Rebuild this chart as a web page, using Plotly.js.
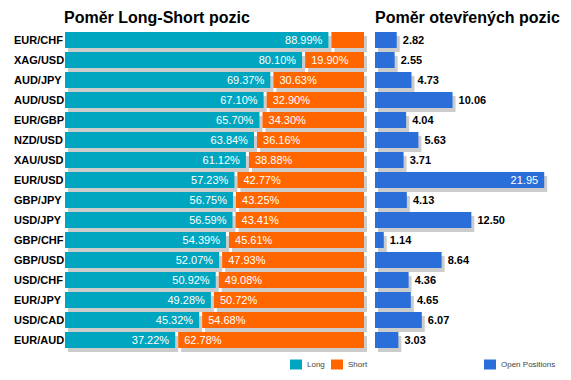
<!DOCTYPE html>
<html>
<head>
<meta charset="utf-8">
<script src="https://cdn.plot.ly/plotly-3.0.1.min.js"></script>
<style>html,body{margin:0;padding:0;background:#fff;}#chart{width:571px;height:380px;}</style>
</head>
<body>
<div id="chart"></div>
<script>
const pairs = ['EUR/CHF','XAG/USD','AUD/JPY','AUD/USD','EUR/GBP','NZD/USD','XAU/USD','EUR/USD','GBP/JPY','USD/JPY','GBP/CHF','GBP/USD','USD/CHF','EUR/JPY','USD/CAD','EUR/AUD'];
const longPct = [88.99,80.10,69.37,67.10,65.70,63.84,61.12,57.23,56.75,56.59,54.39,52.07,50.92,49.28,45.32,37.22];
const shortPct = [11.01,19.90,30.63,32.90,34.30,36.16,38.88,42.77,43.25,43.41,45.61,47.93,49.08,50.72,54.68,62.78];
const openPos = [2.82,2.55,4.73,10.06,4.04,5.63,3.71,21.95,4.13,12.50,1.14,8.64,4.36,4.65,6.07,3.03];

const W = 571, H = 380;
const fx = p => p / W;
const fy = p => 1 - p / H;
const FONT = 'Arial, "Liberation Sans", sans-serif';
const TEAL = '#00a6bf', ORANGE = '#ff6600', BLUE = '#2a6fd9', SHADOW = '#cccccc';
const NB = '\u00a0';

// labels too long for their segment are left out, as in the original
const longText = longPct.map(v => v < 15 ? '' : v.toFixed(2) + '%' + NB);
const shortText = shortPct.map(v => v < 15 ? '' : NB + v.toFixed(2) + '%');
const openInside = openPos.map(v => v > 15);
const openText = openPos.map((v, i) => openInside[i] ? v.toFixed(2) + NB : NB + v.toFixed(2));
const openTextPos = openInside.map(b => b ? 'inside' : 'outside');

const common = {type: 'bar', orientation: 'h', y: pairs, width: 0.8, showlegend: false, hoverinfo: 'skip',
  cliponaxis: false, constraintext: 'none'};

const data = [
  // shadows
  Object.assign({}, common, {x: longPct, xaxis: 'x', yaxis: 'y', marker: {color: SHADOW}}),
  Object.assign({}, common, {x: shortPct, base: longPct, xaxis: 'x2', yaxis: 'y', marker: {color: SHADOW}}),
  Object.assign({}, common, {x: openPos, xaxis: 'x3', yaxis: 'y', marker: {color: SHADOW}}),
  // main bars
  Object.assign({}, common, {name: 'Long', x: longPct, xaxis: 'x4', yaxis: 'y2', marker: {color: TEAL},
    text: longText, textposition: 'inside', insidetextanchor: 'end', textangle: 0,
    insidetextfont: {family: FONT, size: 11, color: '#ffffff'}}),
  Object.assign({}, common, {name: 'Short', x: shortPct, base: longPct, xaxis: 'x5', yaxis: 'y2', marker: {color: ORANGE},
    text: shortText, textposition: 'inside', insidetextanchor: 'start', textangle: 0,
    insidetextfont: {family: FONT, size: 11, color: '#ffffff'}}),
  Object.assign({}, common, {name: 'Open Positions', x: openPos, xaxis: 'x6', yaxis: 'y2', marker: {color: BLUE},
    text: openText, textposition: openTextPos, insidetextanchor: 'end', textangle: 0,
    insidetextfont: {family: FONT, size: 11, color: '#ffffff'},
    outsidetextfont: {family: FONT, size: 11, color: '#000000', weight: 'bold'}})
];

const hiddenX = (d0, d1, r, anchor) => ({domain: [fx(d0), fx(d1)], range: r, visible: false, anchor: anchor, fixedrange: true});
const catY = (t, b) => ({domain: [fy(b), fy(t)], type: 'category', categoryorder: 'array', categoryarray: pairs,
  range: [pairs.length - 0.5, -0.5], visible: false, fixedrange: true});

const annotations = [
  {text: 'Poměr Long-Short pozic', xref: 'paper', yref: 'paper', x: fx(62), y: fy(17), xanchor: 'left', yanchor: 'middle',
   showarrow: false, font: {family: FONT, size: 16, color: '#000', weight: 'bold'}},
  {text: 'Poměr otevřených pozic', xref: 'paper', yref: 'paper', x: fx(373), y: fy(17), xanchor: 'left', yanchor: 'middle',
   showarrow: false, font: {family: FONT, size: 16, color: '#000', weight: 'bold'}}
];
pairs.forEach(p => annotations.push({text: p, xref: 'paper', yref: 'y2', x: fx(12), y: p, xanchor: 'left', yanchor: 'middle',
  showarrow: false, font: {family: FONT, size: 11, color: '#000', weight: 'bold'}}));

const legendItems = [
  {label: 'Long', color: TEAL, x: 290},
  {label: 'Short', color: ORANGE, x: 331},
  {label: 'Open Positions', color: BLUE, x: 484}
];
const shapes = [];
legendItems.forEach(it => {
  shapes.push({type: 'rect', xref: 'paper', yref: 'paper', x0: fx(it.x), x1: fx(it.x + 12), y0: fy(369.5), y1: fy(359.5),
    fillcolor: it.color, line: {width: 0}});
  annotations.push({text: it.label, xref: 'paper', yref: 'paper', x: fx(it.x + 15), y: fy(364.5), xanchor: 'left', yanchor: 'middle',
    showarrow: false, font: {family: FONT, size: 8, color: '#444'}});
});

const layout = {
  width: W, height: H, autosize: false,
  margin: {l: 0, r: 0, t: 0, b: 0, pad: 0},
  paper_bgcolor: '#ffffff', plot_bgcolor: 'rgba(0,0,0,0)',
  showlegend: false, barmode: 'overlay',
  xaxis: hiddenX(68, 364, [0, 100], 'y'),
  xaxis2: hiddenX(71, 367, [0, 100], 'y'),
  xaxis3: hiddenX(378, 563, [0, 24], 'y'),
  xaxis4: hiddenX(65, 361, [0, 100], 'y2'),
  xaxis5: hiddenX(68, 364, [0, 100], 'y2'),
  xaxis6: hiddenX(375, 560, [0, 24], 'y2'),
  yaxis: catY(34, 354),
  yaxis2: catY(30, 350),
  annotations: annotations,
  shapes: shapes
};

Plotly.newPlot('chart', data, layout, {displayModeBar: false, staticPlot: true});
</script>
</body>
</html>
